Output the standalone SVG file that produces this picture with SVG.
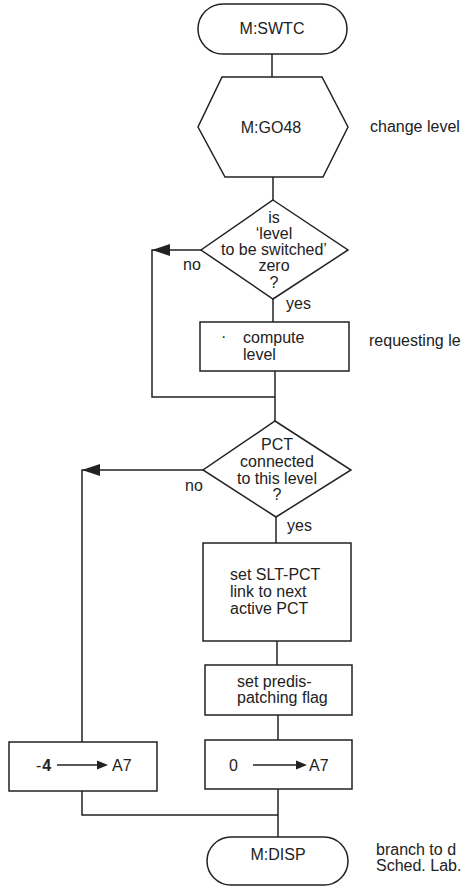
<svg xmlns="http://www.w3.org/2000/svg" width="462" height="887" viewBox="0 0 462 887">
<style>
.s{fill:none;stroke:#222;stroke-width:1.5}
.n{fill:#fff;stroke:#222;stroke-width:1.5}
.t{font-family:"Liberation Sans",Arial,sans-serif;font-size:16px;fill:#222}
.c{text-anchor:middle}
.ah{fill:#222;stroke:none}
</style>
<rect width="462" height="887" fill="#fff"/>
<g id="connectors">
<path class="s" d="M272,54V77"/>
<path class="s" d="M273,177V200"/>
<path class="s" d="M201,250H152V397H275"/>
<polygon class="ah" points="152,250 170,244 170,256"/>
<path class="s" d="M273,299V322"/>
<path class="s" d="M275,371V421"/>
<path class="s" d="M203,470H82V742"/>
<polygon class="ah" points="82,470 100,464 100,476"/>
<path class="s" d="M276,517V543"/>
<path class="s" d="M277,641V665"/>
<path class="s" d="M278,715V740"/>
<path class="s" d="M82,791V815H278"/>
<path class="s" d="M278,789V837"/>
</g>
<g id="swtc">
<rect class="n" x="198" y="4" width="149" height="50" rx="25"/>
<text class="t c" x="272" y="34">M:SWTC</text>
</g>
<g id="go48">
<polygon class="n" points="222,77 322,77 348,127 323,177 225,177 198,127"/>
<text class="t c" x="271" y="133">M:GO48</text>
<text class="t" x="370" y="132">change level</text>
</g>
<g id="dec1">
<polygon class="n" points="273,200 348,250 273,299 201,250"/>
<text class="t c" x="274" y="223">is</text>
<text class="t c" x="274" y="239">‘level</text>
<text class="t c" x="274" y="255">to be switched’</text>
<text class="t c" x="274" y="271">zero</text>
<text class="t c" x="274" y="288">?</text>
<text class="t" x="183" y="270">no</text>
<text class="t" x="286" y="309">yes</text>
</g>
<g id="compute">
<rect class="n" x="200" y="322" width="149" height="49"/>
<text class="t" x="221" y="342">·</text>
<text class="t" x="243" y="343">compute</text>
<text class="t" x="243" y="360">level</text>
<text class="t" x="369" y="346">requesting le</text>
</g>
<g id="dec2">
<polygon class="n" points="275,421 351,470 276,517 203,470"/>
<text class="t c" x="277" y="450">PCT</text>
<text class="t c" x="277" y="467">connected</text>
<text class="t c" x="277" y="484">to this level</text>
<text class="t c" x="277" y="500">?</text>
<text class="t" x="185" y="491">no</text>
<text class="t" x="287" y="531">yes</text>
</g>
<g id="sltpct">
<rect class="n" x="203" y="543" width="148" height="98"/>
<text class="t" x="230" y="580">set SLT-PCT</text>
<text class="t" x="230" y="597">link to next</text>
<text class="t" x="230" y="614">active PCT</text>
</g>
<g id="predis">
<rect class="n" x="205" y="665" width="147" height="50"/>
<text class="t" x="237" y="687">set predis-</text>
<text class="t" x="237" y="703">patching flag</text>
</g>
<g id="zeroA7">
<rect class="n" x="205" y="740" width="147" height="49"/>
<text class="t" x="229" y="771">0</text>
<path class="s" d="M253,765H298"/>
<polygon class="ah" points="307,765 296,760.5 296,769.5"/>
<text class="t" x="309" y="771">A7</text>
</g>
<g id="m4A7">
<rect class="n" x="9" y="742" width="148" height="49"/>
<text class="t" x="36" y="771">-<tspan dx="1" font-weight="bold">4</tspan></text>
<path class="s" d="M57,765H99"/>
<polygon class="ah" points="108,765 97,760.5 97,769.5"/>
<text class="t" x="112" y="771">A7</text>
</g>
<g id="disp">
<rect class="n" x="207" y="837" width="141" height="48" rx="24"/>
<text class="t c" x="278" y="860">M:DISP</text>
<text class="t" x="376" y="855">branch to d</text>
<text class="t" x="376" y="871">Sched. Lab.</text>
</g>
</svg>
